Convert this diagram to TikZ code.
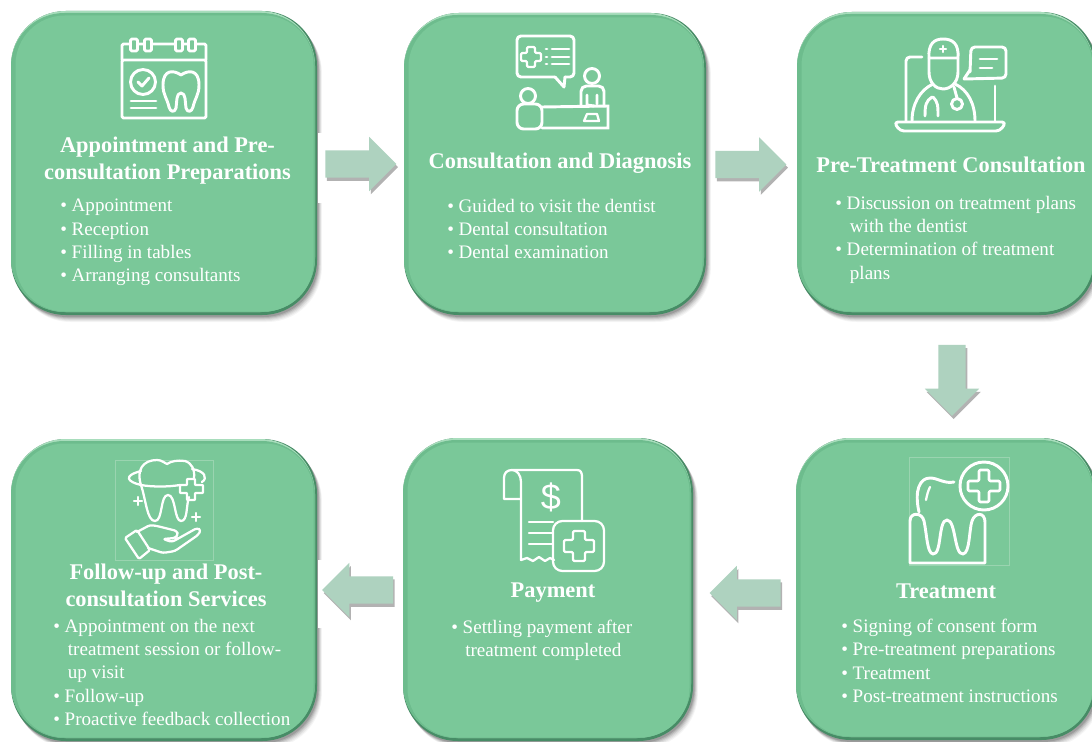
\documentclass[tikz,border=0pt]{standalone}
\usepackage{fontspec}
\setmainfont{Liberation Serif}
\newfontfamily\iconsans{Liberation Sans}
\usetikzlibrary{shapes.arrows,shadows}
\definecolor{boxmain}{HTML}{7AC899}
\definecolor{boxdark}{HTML}{478C66}
\definecolor{boxlight}{HTML}{A8DDBC}
\definecolor{boxmid}{HTML}{6DBC8D}
\definecolor{flow}{HTML}{AED2BF}
\definecolor{faint}{HTML}{9AD4B0}
\newcommand{\gbox}[5]{%
  \foreach \d/\o in {7/.04,6/.05,5/.06,4/.08,3/.10,2/.13}{
    \fill[black,opacity=\o,rounded corners=41pt] (#2+\d*.7,#3+\d*1.0) rectangle (#4+\d*.7,#5+\d*1.0);}
  \fill[boxdark,rounded corners=41pt] (#2,#3) rectangle (#4,#5);
  \fill[boxlight,rounded corners=41pt] (#2,#3) rectangle (#4-2,#5-3);
  \fill[boxmid,rounded corners=40pt] (#2,#3+2) rectangle (#4-2,#5-3);
  \node[gboxstyle,minimum width={0.75pt*(#4-#2-8)},minimum height={0.75pt*(#5-#3-8)}] (#1) at ({(#2+#4)/2+.5},{(#3+#5)/2+.5}) {};}
\tikzset{
  gboxstyle/.style={fill=boxmain,rounded corners=37pt,inner sep=0pt,outer sep=0pt},
  flowarrow/.style={single arrow,fill=flow,inner sep=10.1pt,outer sep=0pt,minimum height=53.25pt,minimum width=40.5pt,single arrow head extend=10.1pt,single arrow tip angle=90,
    drop shadow={shadow xshift=1.2pt,shadow yshift=-2.4pt,fill=black,opacity=.3}},
  ttl/.style={text=white,font=\fontsize{16.8}{20}\selectfont\bfseries,align=center,inner sep=0pt},
  lst/.style={text=white,font=\fontsize{14.3}{17.4}\selectfont,align=left,inner sep=0pt,anchor=north west},
  icon/.style={draw=white,line width=2.2pt,line join=round,line cap=round},
  iconthin/.style={draw=white,line width=1.7pt,line join=round,line cap=round},
  faintbox/.style={draw=faint,line width=.5pt},
}
\newcommand{\bul}{\makebox[8.6pt][l]{\textbullet}}
\begin{document}
\begin{tikzpicture}[x=0.75pt,y=-0.75pt]
\useasboundingbox (0,0) rectangle (1092,742);
\clip (0,0) rectangle (1092,742);
\fill[white] (0,0) rectangle (1092,742);
\gbox{b1}{11}{11}{317}{315}
\gbox{b2}{404}{13}{706}{315}
\gbox{b3}{797}{12}{1096}{315}
\gbox{b4}{796}{438}{1096}{740}
\gbox{b5}{403}{438}{693}{741}
\gbox{b6}{11}{439}{317}{741}
% white leftovers behind the arrows
\fill[white] (317.5,133) rectangle (324,203);
\fill[white] (317.5,560) rectangle (323,628);
% arrows
\node[flowarrow] (a1) at (354,164) {};
\node[flowarrow] (a2) at (744,164.5) {};
\node[flowarrow,shape border rotate=270] (a3) at (952,373.5) {};
\node[flowarrow,shape border rotate=180] (a4) at (752,593) {};
\node[flowarrow,shape border rotate=180] (a5) at (364.5,590) {};
% titles
\node[ttl] (t1) at (167.5,160.5) {Appointment and Pre-\\consultation Preparations};
\node[ttl] (t2) at (560,163) {Consultation and Diagnosis};
\node[ttl] (t3) at (951,165) {Pre-Treatment Consultation};
\node[ttl] (t4) at (946,591) {Treatment};
\node[ttl] (t5) at (553,593) {Payment};
\node[ttl] (t6) at (166,585.5) {Follow-up and Post-\\consultation Services};
% lists
\node[lst] (l1) at (60,199) {\bul Appointment\\\bul Reception\\\bul Filling in tables\\\bul Arranging consultants};
\node[lst] (l2) at (447,199) {\bul Guided to visit the dentist\\\bul Dental consultation\\\bul Dental examination};
\node[lst] (l3) at (835,196) {\bul Discussion on treatment plans\\\hspace*{11pt}with the dentist\\\bul Determination of treatment\\\hspace*{11pt}plans};
\node[lst] (l4) at (841,619) {\bul Signing of consent form\\\bul Pre-treatment preparations\\\bul Treatment\\\bul Post-treatment instructions};
\node[lst] (l5) at (451,620) {\bul Settling payment after\\\hspace*{10.5pt}treatment completed};
\node[lst] (l6) at (53,619) {\bul Appointment on the next\\\hspace*{11pt}treatment session or follow-\\\hspace*{11pt}up visit\\\bul Follow-up\\\bul Proactive feedback collection};
% icon 1: calendar
\draw[icon,rounded corners=1pt] (122,60) -- (122,44) -- (130,44) (138,44) -- (144,44) (152,44) -- (175,44) (183,44) -- (188,44) (197,44) -- (206,44) -- (206,60);
\draw[icon,rounded corners=1pt] (122,60) rectangle (206,118);
\foreach \x in {134,148,179,192}{\draw[icon,rounded corners=1pt] (\x-3.5,39) rectangle (\x+3.5,51);}
\draw[icon] (143,82) circle (12.5);
\draw[icon] (138,82) -- (142,86) -- (149,78);
\draw[icon] (131,101) -- (156,101) (131,108) -- (156,108);
\draw[icon] (181,75) .. controls (174,70) and (163,69) .. (163,85) .. controls (163,95) and (167,98) .. (169,107) .. controls (170,112) and (175,113) .. (176,108) .. controls (177,102) and (176,93) .. (181,93) .. controls (186,93) and (185,102) .. (186,108) .. controls (187,113) and (192,112) .. (193,107) .. controls (195,98) and (199,95) .. (199,85) .. controls (199,69) and (188,70) .. (181,75);
% icon 2: consultation
\draw[icon,rounded corners=3pt] (555,77) -- (517,77) -- (517,36) -- (574,36) -- (574,77) -- (565,77);
\draw[icon] (555,77) -- (564,87) -- (565,77);
\draw[iconthin,rounded corners=1pt] (527,47) -- (535,47) -- (535,53) -- (541,53) -- (541,61) -- (535,61) -- (535,67) -- (527,67) -- (527,61) -- (521,61) -- (521,53) -- (527,53) -- cycle;
\draw[icon] (552,49) -- (569,49) (552,57) -- (569,57) (552,64) -- (569,64) (546,49) -- (547,49) (546,57) -- (547,57) (546,64) -- (547,64);
\draw[icon] (592,76) circle (7.5);
\draw[icon,rounded corners=4pt] (581,106) -- (581,86) -- (604,86) -- (604,106);
\draw[icon] (587,95) -- (587,105) -- (594,106) (597,95) -- (597,104);
\draw[icon,line join=miter] (542,107) -- (608,106) -- (608,128) -- (542,128);
\draw[iconthin] (587,114) -- (597,114) -- (599,121) -- (584,121) -- cycle;
\draw[icon] (528,96) circle (7.5);
\draw[icon,rounded corners=5pt] (517,129) -- (517,104) -- (542,104) -- (542,129) -- cycle;
% icon 3: doctor
\draw[icon] (929,58) .. controls (928,44) and (934,39) .. (943,39) .. controls (953,39) and (959,44) .. (958,58) -- cycle;
\draw[icon] (929,58) -- (929,72) .. controls (929,83) and (936,89) .. (943,89) .. controls (950,89) and (958,83) .. (958,72) -- (958,58);
\draw[iconthin] (943,46) -- (943,52) (940,49) -- (946,49);
\draw[icon,rounded corners=3pt] (970,72) -- (971,47) -- (1006,47) -- (1006,78) -- (964,79);
\draw[icon] (964,79) -- (970,70);
\draw[icon] (980,59) -- (997,59) (980,68) -- (992,68);
\draw[icon,rounded corners=3pt] (922,57) -- (906,57) -- (906,121);
\draw[icon] (995,86) -- (995,121);
\draw[icon,rounded corners=3pt] (894,122) -- (1006,122) -- (1000,131) -- (900,131) -- cycle;
\draw[icon] (912,121) .. controls (912,104) and (920,90) .. (933,84);
\draw[icon] (975,121) .. controls (975,104) and (968,90) .. (955,84);
\draw[icon] (932,97) .. controls (926,101) and (925,105) .. (925,116) (933,97) .. controls (938,102) and (938,106) .. (938,116);
\draw[icon] (954,87) -- (957,98);
\draw[icon] (957,104) circle (5.5);
% icon 4: tooth in hand
\draw[faintbox] (115,460) rectangle (213,560);
\draw[iconthin] (141,485) .. controls (136,470) and (143,460) .. (157,460) .. controls (162,460) and (164,463) .. (167,464) .. controls (171,461) and (178,460) .. (185,461) .. controls (192,463) and (195,470) .. (194,478);
\draw[iconthin] (141,485) .. controls (146,500) and (147,521) .. (155,521) .. controls (163,521) and (160,495) .. (168,495) .. controls (176,495) and (174,521) .. (181,521) .. controls (188,521) and (186,505) .. (189,497);
\draw[iconthin] (141,471) .. controls (122,476) and (128,482) .. (141,485) .. controls (152,487) and (168,487) .. (180,485);
\draw[iconthin] (192,469) .. controls (205,471) and (208,478) .. (202,482);
\draw[iconthin,rounded corners=.5pt] (187,479) -- (195,479) -- (195,485) -- (203,485) -- (203,493) -- (195,493) -- (195,500) -- (187,500) -- (187,493) -- (180,493) -- (180,485) -- (187,485) -- cycle;
\draw[iconthin] (138,497) -- (138,505) (134,501) -- (142,501) (196,513) -- (196,521) (192,517) -- (200,517);
\draw[iconthin,rounded corners=1pt] (125,538) -- (137,530) -- (150,550) -- (139,559) -- cycle;
\draw[iconthin,rounded corners=2pt] (137,532) -- (150,525) -- (157,526) -- (177,531) -- (178,535) -- (175,538) -- (163,539) -- (172,542) -- (197,528) -- (201,530) -- (198,535) -- (175,551) -- (163,553) -- (148,548);
% icon 5: receipt
\draw[iconthin] (521,560) -- (521,482) .. controls (521,475) and (517,470) .. (512,470) -- (577,470) .. controls (581,470) and (582,473) .. (582,477) -- (582,521);
\draw[iconthin] (512,470) .. controls (507,470) and (504,473) .. (504,478) -- (504,499) -- (521,499);
\draw[iconthin] (521,560) -- (527,558) -- (533,561) -- (539,557) -- (545,561) -- (550,558) -- (554,560);
\node[text=white,font=\iconsans\fontsize{27}{27}\selectfont,inner sep=0pt] (d5) at (551,497) {\$};
\draw[iconthin] (529,522) -- (553,522) (529,533) -- (553,533) (529,544) -- (553,544);
\draw[iconthin,rounded corners=7pt] (553,521) rectangle (604,571);
\draw[iconthin,rounded corners=1pt] (573,531) -- (585,531) -- (585,540) -- (594,540) -- (594,552) -- (585,552) -- (585,561) -- (573,561) -- (573,552) -- (564,552) -- (564,540) -- (573,540) -- cycle;
% icon 6: tooth with cross
\draw[faintbox] (909,457) rectangle (1009,565);
\draw[icon] (984,486) circle (24);
\draw[iconthin,line width=2pt,rounded corners=1pt] (979,470) -- (989,470) -- (989,481) -- (1000,481) -- (1000,491) -- (989,491) -- (989,502) -- (979,502) -- (979,491) -- (968,491) -- (968,481) -- (979,481) -- cycle;
\draw[icon,line cap=butt] (910,563) -- (910,521) .. controls (910,512) and (922,512) .. (924,521) .. controls (927,535) and (927,553) .. (933,554) .. controls (942,555) and (938,520) .. (947,520) .. controls (956,520) and (954,555) .. (963,554) .. controls (970,553) and (969,530) .. (972,521) .. controls (975,512) and (985,512) .. (985,522) -- (985,563) -- cycle;
\draw[icon] (919,512) .. controls (914,490) and (920,478) .. (930,478) .. controls (938,478) and (944,484) .. (954,482);
\draw[iconthin] (930,487) .. controls (928,491) and (927,495) .. (926,500);
\end{tikzpicture}
\end{document}
